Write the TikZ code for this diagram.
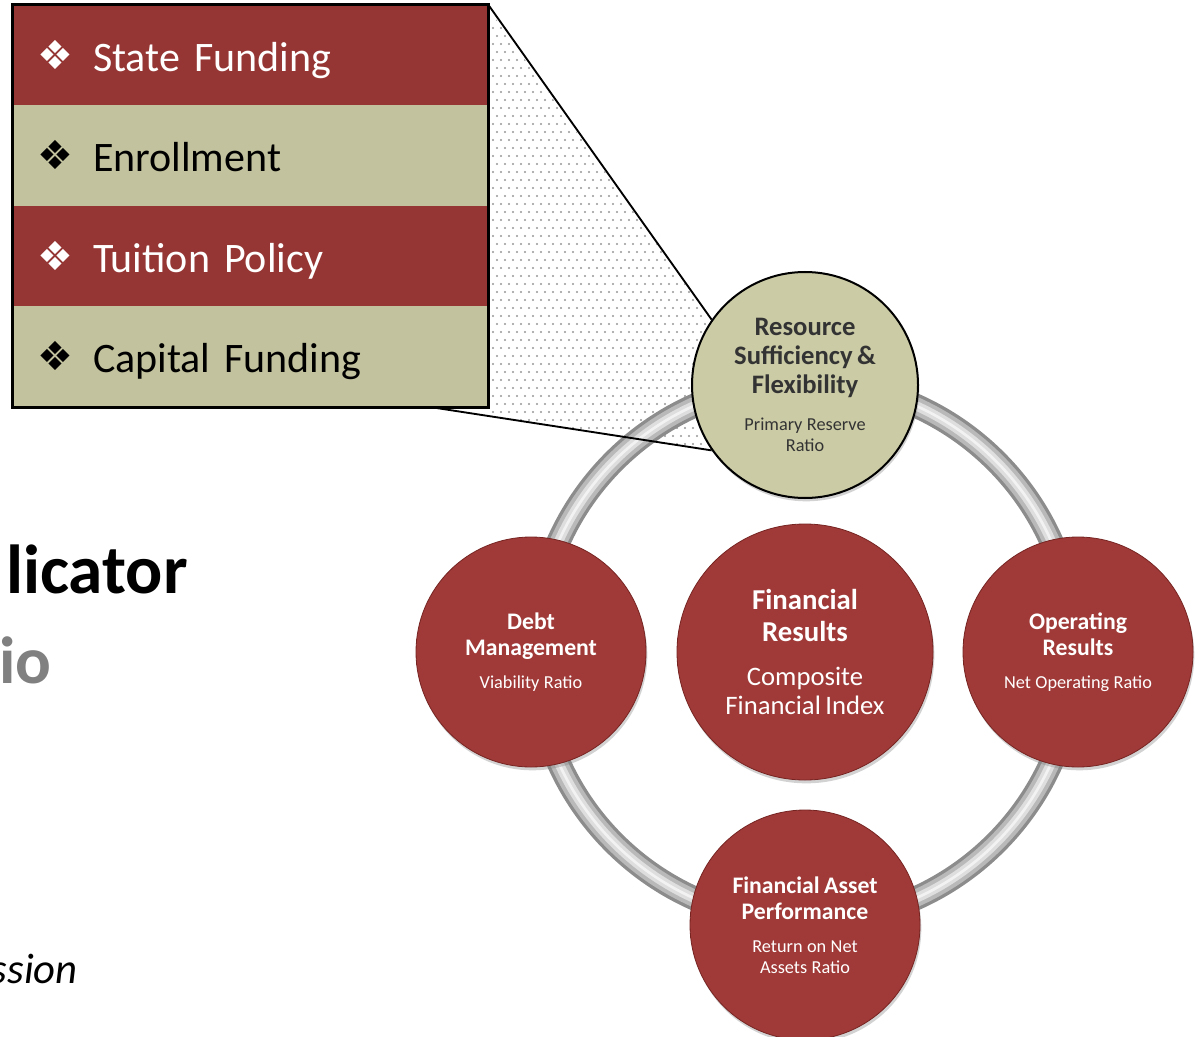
\documentclass[tikz,border=0pt]{standalone}
\usepackage{fontspec}
\setmainfont{Carlito}
\newfontfamily\symfont{DejaVu Sans}
\usetikzlibrary{positioning,shadows}

\definecolor{bandred}{RGB}{149,54,52}
\definecolor{bandtan}{RGB}{194,194,158}
\definecolor{knobred}{RGB}{160,58,56}
\definecolor{knobmid}{RGB}{140,48,46}
\definecolor{knobrim}{RGB}{118,36,34}
\definecolor{knobtan}{RGB}{203,203,166}
\definecolor{tanmid}{RGB}{178,178,140}
\definecolor{knobtext}{RGB}{51,51,51}
\definecolor{dotgray}{RGB}{150,150,150}
\definecolor{fadedgray}{RGB}{128,128,128}
\definecolor{ringedge}{RGB}{140,140,140}
\definecolor{ringmid}{RGB}{185,185,185}
\definecolor{ringlight}{RGB}{222,222,222}

\pgfdeclareradialshading{redbevel}{\pgfpoint{0bp}{0bp}}{color(0bp)=(knobred); color(41bp)=(knobred); color(48bp)=(knobmid); color(50bp)=(knobrim); color(100bp)=(knobrim)}
\pgfdeclareradialshading{tanbevel}{\pgfpoint{0bp}{0bp}}{color(0bp)=(knobtan); color(42bp)=(knobtan); color(50bp)=(tanmid); color(100bp)=(tanmid)}

\tikzstyle{band}=[rectangle, minimum width=356.25pt, minimum height=75.4pt,
                  inner xsep=18pt, inner ysep=0pt, text width=320.25pt, align=left,
                  text height=24pt, text depth=0pt, font=\fontsize{31.5}{34}\selectfont]
\tikzstyle{redband}=[band, fill=bandred, text=white]
\tikzstyle{tanband}=[band, fill=bandtan, text=black]
\tikzstyle{knob}=[circle, inner sep=0pt, align=center, text width=128pt,
                  minimum size=172.5pt,
                  drop shadow={shadow xshift=1pt, shadow yshift=-2.5pt, opacity=.35}]
\tikzstyle{redknob}=[knob, shading=redbevel, draw=knobrim, line width=0.6pt, text=white]
\tikzstyle{tanknob}=[knob, shading=tanbevel, draw=black, line width=1.5pt, text=knobtext]
\tikzstyle{calloutline}=[draw, black, line width=1.4pt]
\tikzstyle{slidehead}=[anchor=base east, inner sep=0pt]

\newcommand{\knobtitle}[1]{{\bfseries\fontsize{17.8}{20}\selectfont #1\par}}
\newcommand{\knobratio}[1]{{\fontsize{13.7}{15.5}\selectfont #1\par}}

\begin{document}
\begin{tikzpicture}[x=0.75pt, y=-0.75pt]
  \useasboundingbox (0,0) rectangle (1198,1037);
  \clip (0,0) rectangle (1198,1037);
  \fill[white] (0,0) rectangle (1198,1037);
  %
  % Dotted wedge behind the callout
  \begin{scope}
    \clip (488,8) -- (708,316) -- (713,452) -- (430,407) -- cycle;
    \foreach \r in {0,...,56}
      \foreach \c in {0,...,28}
        \fill[dotgray] ({493+8*\c+4*mod(\r,2)},{12+8*\r}) circle[radius=0.8pt];
  \end{scope}
  %
  % Ring joining the outer circles
  \coordinate (hub) at (805,652);
  \draw[ringedge, line width=18pt] (hub) circle[radius=270];
  \draw[ringmid, line width=13pt] (hub) circle[radius=270];
  \draw[ringlight, line width=7pt] (hub) circle[radius=270];
  \draw[white!90!gray, line width=2pt] (hub) circle[radius=270];
  %
  % Callout bands
  \foreach \i/\kind/\txt in {1/redband/State Funding, 2/tanband/Enrollment,
           3/redband/Tuition Policy, 4/tanband/Capital Funding}
    \node[\kind] (band\i) at (250.5,{5+100.5*\i-50.25})
      {\makebox[42pt][l]{\raisebox{1.5pt}{\symfont\fontsize{30}{30}\selectfont ❖}}\txt};
  \draw[line width=2pt] (band1.north west) rectangle (band4.south east);
  \coordinate (calloutfoot) at (430,407);
  %
  % Circles
  \node[tanknob, minimum size=169.5pt] (resource) at (805,385)
    {{\bfseries\fontsize{20}{21.75}\selectfont Resource\\Sufficiency \&\\Flexibility\par}
     \vspace{12.5pt}\knobratio{Primary Reserve\\Ratio}};
  \node[redknob] (debt) at (531,652)
    {\knobtitle{Debt\\Management}\vspace{9pt}\knobratio{Viability Ratio}};
  \node[redknob, minimum size=192pt, text width=140pt] (results) at (hub)
    {{\bfseries\fontsize{21.6}{24}\selectfont Financial\\Results\par}
     \vspace{11pt}{\fontsize{20}{21.75}\selectfont Composite\\Financial Index\par}};
  \node[redknob] (operating) at (1078,652)
    {\knobtitle{Operating\\Results}\vspace{9pt}\knobratio{Net Operating Ratio}};
  \node[redknob] (asset) at (805,925)
    {\knobtitle{Financial Asset\\Performance}\vspace{9pt}\knobratio{Return on Net\\Assets Ratio}};
  %
  % Callout edges
  \path[calloutline] (band1.north east) -- (resource.145);
  \path[calloutline] (calloutfoot) -- (resource.215);
  %
  % Slide text cut at the left edge
  \node[slidehead, font=\bfseries\fontsize{52}{60}\selectfont] (indicator) at (188,593) {licator};
  \node[slidehead, font=\bfseries\fontsize{50}{60}\selectfont, text=fadedgray] (ratio) at (52,683) {io};
  \node[slidehead, font=\itshape\fontsize{32}{40}\selectfont] (session) at (78,983) {ssion};
\end{tikzpicture}
\end{document}
